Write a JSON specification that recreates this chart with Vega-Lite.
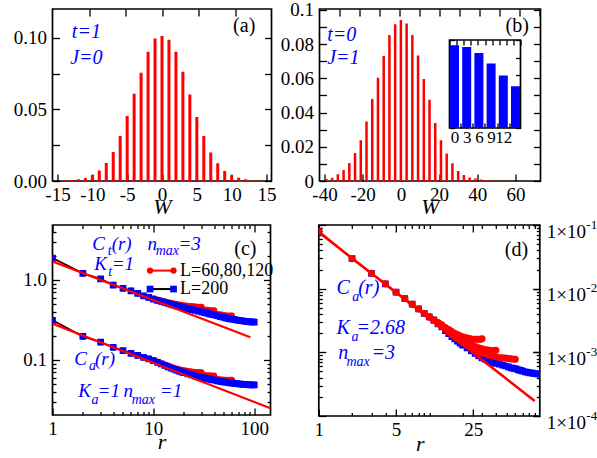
{
"$schema": "https://vega.github.io/schema/vega-lite/v6.json",
"background": "white",
"padding": {"left": 11.5, "top": 0, "right": 2, "bottom": 2},
"config": {
 "view": {"stroke": "black", "strokeWidth": 1.7},
 "axis": {"domain": false, "grid": false, "labelFont": "Liberation Serif", "labelFontSize": 19, "labelColor": "black", "labelFlush": false, "labelOverlap": false, "tickColor": "black", "tickWidth": 1.3, "tickSize": -7, "titleFont": "Liberation Serif", "titleFontSize": 22, "titleFontStyle": "italic", "titleFontWeight": "normal", "titleColor": "black", "titleBaseline": "alphabetic"},
 "axisBottom": {"labelBaseline": "alphabetic", "labelPadding": 26},
 "axisLeft": {"labelPadding": 13},
 "axisRight": {"labelPadding": 13.7},
 "axisTop": {"labels": false},
 "text": {"font": "Liberation Serif"}
},
"datasets": {
 "histA": [{"W":-14,"P":0.0004},{"W":-13,"P":0.0007},{"W":-12,"P":0.0012},{"W":-11,"P":0.0021},{"W":-10,"P":0.0042},{"W":-9,"P":0.0074},{"W":-8,"P":0.0126},{"W":-7,"P":0.0202},{"W":-6,"P":0.0314},{"W":-5,"P":0.0453},{"W":-4,"P":0.0609},{"W":-3,"P":0.0755},{"W":-2,"P":0.0902},{"W":-1,"P":0.0995},{"W":0,"P":0.1011},{"W":1,"P":0.0985},{"W":2,"P":0.0902},{"W":3,"P":0.0762},{"W":4,"P":0.0604},{"W":5,"P":0.0446},{"W":6,"P":0.0314},{"W":7,"P":0.0198},{"W":8,"P":0.0123},{"W":9,"P":0.0070},{"W":10,"P":0.0040},{"W":11,"P":0.0023},{"W":12,"P":0.0013},{"W":13,"P":0.0007},{"W":14,"P":0.0004}],
 "histB": [{"W":-39,"P":0.0012},{"W":-36,"P":0.0019},{"W":-33,"P":0.0039},{"W":-30,"P":0.0064},{"W":-27,"P":0.0105},{"W":-24,"P":0.0164},{"W":-21,"P":0.0238},{"W":-18,"P":0.0347},{"W":-15,"P":0.0479},{"W":-12,"P":0.0604},{"W":-9,"P":0.0730},{"W":-6,"P":0.0853},{"W":-3,"P":0.0916},{"W":0,"P":0.0941},{"W":3,"P":0.0920},{"W":6,"P":0.0853},{"W":9,"P":0.0733},{"W":12,"P":0.0596},{"W":15,"P":0.0475},{"W":18,"P":0.0339},{"W":21,"P":0.0238},{"W":24,"P":0.0160},{"W":27,"P":0.0103},{"W":30,"P":0.0058},{"W":33,"P":0.0035},{"W":36,"P":0.0021},{"W":39,"P":0.0014},{"W":42,"P":0.0009},{"W":45,"P":0.0006},{"W":48,"P":0.0004},{"W":51,"P":0.0003},{"W":54,"P":0.0002},{"W":57,"P":0.0001}],
 "txtA": [{"x":-12.35,"y":0.0998,"t":"t=1"},{"x":-12.58,"y":0.0816,"t":"J=0"}],
 "txtB": [{"x":-36.15,"y":0.0816,"t":"t=0"},{"x":-36.15,"y":0.0684,"t":"J=1"}],
 "redC": [
  {"s":"t60","r":1,"C":1.88},{"s":"t60","r":2,"C":1.21},{"s":"t60","r":3,"C":1.03},{"s":"t60","r":4,"C":0.865},{"s":"t60","r":5,"C":0.786},{"s":"t60","r":6,"C":0.733},{"s":"t60","r":7,"C":0.68},{"s":"t60","r":8,"C":0.634},{"s":"t60","r":9,"C":0.605},{"s":"t60","r":10,"C":0.586},{"s":"t60","r":11,"C":0.568},{"s":"t60","r":12,"C":0.551},{"s":"t60","r":13,"C":0.538},{"s":"t60","r":14,"C":0.526},{"s":"t60","r":15,"C":0.515},{"s":"t60","r":16,"C":0.505},{"s":"t60","r":17,"C":0.498},{"s":"t60","r":18,"C":0.492},{"s":"t60","r":19,"C":0.487},{"s":"t60","r":20,"C":0.482},{"s":"t60","r":21,"C":0.478},{"s":"t60","r":22,"C":0.474},{"s":"t60","r":23,"C":0.471},{"s":"t60","r":24,"C":0.468},{"s":"t60","r":25,"C":0.466},{"s":"t60","r":26,"C":0.464},{"s":"t60","r":27,"C":0.462},{"s":"t60","r":28,"C":0.461},{"s":"t60","r":29,"C":0.461},{"s":"t60","r":30,"C":0.461},
  {"s":"t80","r":9,"C":0.605},{"s":"t80","r":10,"C":0.581},{"s":"t80","r":11,"C":0.562},{"s":"t80","r":12,"C":0.545},{"s":"t80","r":13,"C":0.530},{"s":"t80","r":14,"C":0.517},{"s":"t80","r":15,"C":0.505},{"s":"t80","r":16,"C":0.494},{"s":"t80","r":17,"C":0.487},{"s":"t80","r":18,"C":0.480},{"s":"t80","r":19,"C":0.473},{"s":"t80","r":20,"C":0.467},{"s":"t80","r":22,"C":0.456},{"s":"t80","r":24,"C":0.447},{"s":"t80","r":26,"C":0.440},{"s":"t80","r":28,"C":0.433},{"s":"t80","r":30,"C":0.428},{"s":"t80","r":32,"C":0.424},{"s":"t80","r":34,"C":0.421},{"s":"t80","r":36,"C":0.418},{"s":"t80","r":38,"C":0.416},{"s":"t80","r":40,"C":0.415},
  {"s":"t120","r":9,"C":0.605},{"s":"t120","r":10,"C":0.578},{"s":"t120","r":11,"C":0.558},{"s":"t120","r":12,"C":0.540},{"s":"t120","r":13,"C":0.525},{"s":"t120","r":14,"C":0.512},{"s":"t120","r":15,"C":0.499},{"s":"t120","r":16,"C":0.488},{"s":"t120","r":17,"C":0.479},{"s":"t120","r":18,"C":0.471},{"s":"t120","r":19,"C":0.464},{"s":"t120","r":20,"C":0.457},{"s":"t120","r":22,"C":0.445},{"s":"t120","r":24,"C":0.434},{"s":"t120","r":26,"C":0.424},{"s":"t120","r":28,"C":0.415},{"s":"t120","r":30,"C":0.408},{"s":"t120","r":32,"C":0.401},{"s":"t120","r":34,"C":0.395},{"s":"t120","r":36,"C":0.390},{"s":"t120","r":38,"C":0.385},{"s":"t120","r":40,"C":0.380},{"s":"t120","r":43,"C":0.375},{"s":"t120","r":46,"C":0.370},{"s":"t120","r":49,"C":0.365},{"s":"t120","r":52,"C":0.361},{"s":"t120","r":55,"C":0.358},{"s":"t120","r":58,"C":0.357},{"s":"t120","r":60,"C":0.357},
  {"s":"a60","r":1,"C":0.313},{"s":"a60","r":2,"C":0.197},{"s":"a60","r":3,"C":0.167},{"s":"a60","r":4,"C":0.144},{"s":"a60","r":5,"C":0.131},{"s":"a60","r":6,"C":0.121},{"s":"a60","r":7,"C":0.114},{"s":"a60","r":8,"C":0.108},{"s":"a60","r":9,"C":0.103},{"s":"a60","r":10,"C":0.0995},{"s":"a60","r":11,"C":0.0952},{"s":"a60","r":12,"C":0.091},{"s":"a60","r":13,"C":0.0876},{"s":"a60","r":14,"C":0.0846},{"s":"a60","r":15,"C":0.0819},{"s":"a60","r":16,"C":0.0798},{"s":"a60","r":17,"C":0.078},{"s":"a60","r":18,"C":0.0764},{"s":"a60","r":19,"C":0.0752},{"s":"a60","r":20,"C":0.0742},{"s":"a60","r":21,"C":0.0733},{"s":"a60","r":22,"C":0.0725},{"s":"a60","r":23,"C":0.0719},{"s":"a60","r":24,"C":0.0714},{"s":"a60","r":25,"C":0.0709},{"s":"a60","r":26,"C":0.0705},{"s":"a60","r":27,"C":0.0703},{"s":"a60","r":28,"C":0.0701},{"s":"a60","r":29,"C":0.0701},{"s":"a60","r":30,"C":0.0701},
  {"s":"a80","r":9,"C":0.103},{"s":"a80","r":10,"C":0.0988},{"s":"a80","r":11,"C":0.0945},{"s":"a80","r":12,"C":0.0901},{"s":"a80","r":13,"C":0.0865},{"s":"a80","r":14,"C":0.0833},{"s":"a80","r":15,"C":0.0806},{"s":"a80","r":16,"C":0.0782},{"s":"a80","r":17,"C":0.0762},{"s":"a80","r":18,"C":0.0745},{"s":"a80","r":19,"C":0.0731},{"s":"a80","r":20,"C":0.0718},{"s":"a80","r":22,"C":0.0697},{"s":"a80","r":24,"C":0.0682},{"s":"a80","r":26,"C":0.0666},{"s":"a80","r":28,"C":0.0656},{"s":"a80","r":30,"C":0.065},{"s":"a80","r":32,"C":0.0646},{"s":"a80","r":34,"C":0.0643},{"s":"a80","r":36,"C":0.064},{"s":"a80","r":38,"C":0.0638},{"s":"a80","r":40,"C":0.0637},
  {"s":"a120","r":9,"C":0.103},{"s":"a120","r":10,"C":0.0983},{"s":"a120","r":11,"C":0.0938},{"s":"a120","r":12,"C":0.0894},{"s":"a120","r":13,"C":0.0858},{"s":"a120","r":14,"C":0.0825},{"s":"a120","r":15,"C":0.0796},{"s":"a120","r":16,"C":0.0771},{"s":"a120","r":17,"C":0.0751},{"s":"a120","r":18,"C":0.0732},{"s":"a120","r":19,"C":0.0717},{"s":"a120","r":20,"C":0.0703},{"s":"a120","r":22,"C":0.068},{"s":"a120","r":24,"C":0.066},{"s":"a120","r":26,"C":0.0642},{"s":"a120","r":28,"C":0.0628},{"s":"a120","r":30,"C":0.0617},{"s":"a120","r":32,"C":0.0609},{"s":"a120","r":34,"C":0.0601},{"s":"a120","r":36,"C":0.0594},{"s":"a120","r":38,"C":0.0588},{"s":"a120","r":40,"C":0.0582},{"s":"a120","r":43,"C":0.0577},{"s":"a120","r":46,"C":0.0572},{"s":"a120","r":49,"C":0.0568},{"s":"a120","r":52,"C":0.0565},{"s":"a120","r":55,"C":0.0564},{"s":"a120","r":58,"C":0.0564},{"s":"a120","r":60,"C":0.0565}
 ],
 "blueC": [
  {"s":"t","r":1,"C":1.88},{"s":"t","r":2,"C":1.21},{"s":"t","r":3,"C":1.03},{"s":"t","r":4,"C":0.865},{"s":"t","r":5,"C":0.786},{"s":"t","r":6,"C":0.733},{"s":"t","r":7,"C":0.68},{"s":"t","r":8,"C":0.634},{"s":"t","r":9,"C":0.605},{"s":"t","r":10,"C":0.576},{"s":"t","r":11,"C":0.556},{"s":"t","r":12,"C":0.538},{"s":"t","r":13,"C":0.523},{"s":"t","r":14,"C":0.509},{"s":"t","r":15,"C":0.496},{"s":"t","r":16,"C":0.484},{"s":"t","r":17,"C":0.475},{"s":"t","r":18,"C":0.467},{"s":"t","r":19,"C":0.459},{"s":"t","r":20,"C":0.452},{"s":"t","r":22,"C":0.439},{"s":"t","r":24,"C":0.427},{"s":"t","r":26,"C":0.417},{"s":"t","r":28,"C":0.407},{"s":"t","r":30,"C":0.399},{"s":"t","r":32,"C":0.391},{"s":"t","r":34,"C":0.384},{"s":"t","r":36,"C":0.377},{"s":"t","r":38,"C":0.371},{"s":"t","r":40,"C":0.365},{"s":"t","r":43,"C":0.357},{"s":"t","r":46,"C":0.349},{"s":"t","r":49,"C":0.342},{"s":"t","r":52,"C":0.336},{"s":"t","r":55,"C":0.331},{"s":"t","r":58,"C":0.326},{"s":"t","r":61,"C":0.323},{"s":"t","r":64,"C":0.319},{"s":"t","r":67,"C":0.316},{"s":"t","r":70,"C":0.313},{"s":"t","r":74,"C":0.310},{"s":"t","r":78,"C":0.307},{"s":"t","r":82,"C":0.304},{"s":"t","r":86,"C":0.302},{"s":"t","r":90,"C":0.300},{"s":"t","r":95,"C":0.299},{"s":"t","r":100,"C":0.298},
  {"s":"a","r":1,"C":0.313},{"s":"a","r":2,"C":0.197},{"s":"a","r":3,"C":0.167},{"s":"a","r":4,"C":0.144},{"s":"a","r":5,"C":0.131},{"s":"a","r":6,"C":0.121},{"s":"a","r":7,"C":0.114},{"s":"a","r":8,"C":0.108},{"s":"a","r":9,"C":0.103},{"s":"a","r":10,"C":0.098},{"s":"a","r":11,"C":0.0935},{"s":"a","r":12,"C":0.089},{"s":"a","r":13,"C":0.0853},{"s":"a","r":14,"C":0.082},{"s":"a","r":15,"C":0.079},{"s":"a","r":16,"C":0.0765},{"s":"a","r":17,"C":0.0745},{"s":"a","r":18,"C":0.0725},{"s":"a","r":19,"C":0.071},{"s":"a","r":20,"C":0.0695},{"s":"a","r":22,"C":0.067},{"s":"a","r":24,"C":0.065},{"s":"a","r":26,"C":0.063},{"s":"a","r":28,"C":0.0615},{"s":"a","r":30,"C":0.0603},{"s":"a","r":32,"C":0.0593},{"s":"a","r":34,"C":0.0584},{"s":"a","r":36,"C":0.0575},{"s":"a","r":38,"C":0.0566},{"s":"a","r":40,"C":0.0558},{"s":"a","r":43,"C":0.0549},{"s":"a","r":46,"C":0.0541},{"s":"a","r":49,"C":0.0533},{"s":"a","r":52,"C":0.0527},{"s":"a","r":55,"C":0.0521},{"s":"a","r":58,"C":0.0516},{"s":"a","r":61,"C":0.0512},{"s":"a","r":64,"C":0.0508},{"s":"a","r":67,"C":0.0505},{"s":"a","r":70,"C":0.0502},{"s":"a","r":74,"C":0.0499},{"s":"a","r":78,"C":0.0496},{"s":"a","r":82,"C":0.0493},{"s":"a","r":86,"C":0.0491},{"s":"a","r":90,"C":0.0489},{"s":"a","r":95,"C":0.0488},{"s":"a","r":100,"C":0.0487}
 ],
 "fitC": [{"s":"t","r":1,"C":1.70},{"s":"t","r":91.5,"C":0.192},{"s":"a","r":1,"C":0.284},{"s":"a","r":145,"C":0.0249}],
 "legRedC": [{"r":9.27,"C":1.31},{"r":15.85,"C":1.31}],
 "legBlueC": [{"r":9.27,"C":0.77},{"r":15.85,"C":0.77}],
 "legTxtC": [{"r":18.4,"C":1.31,"t":"L=60,80,120"},{"r":18.4,"C":0.77,"t":"L=200"}],
 "txtMainC": [{"x":2.481,"y":2.371,"t":"C"},{"x":3.859,"y":2.371,"t":"(r)"},{"x":8.738,"y":2.371,"t":"n"},{"x":17.77,"y":2.371,"t":"=3"},{"x":2.597,"y":1.334,"t":"K"},{"x":3.859,"y":1.334,"t":"=1"},{"x":1.643,"y":0.0866,"t":"C"},{"x":2.633,"y":0.0866,"t":"(r)"},{"x":1.801,"y":0.03418,"t":"K"},{"x":2.8,"y":0.03418,"t":"=1"},{"x":5.045,"y":0.03418,"t":"n"},{"x":11.6,"y":0.03418,"t":"=1"}],
 "txtSubC": [{"x":3.522,"y":2.054,"t":"t"},{"x":10.56,"y":2.054,"t":"max"},{"x":3.578,"y":1.122,"t":"t"},{"x":2.296,"y":0.07499,"t":"a"},{"x":2.442,"y":0.02818,"t":"a"},{"x":6.099,"y":0.02818,"t":"max"}],
 "blueD": [{"r":1,"C":0.080},{"r":2,"C":0.0296},{"r":3,"C":0.0174},{"r":4,"C":0.0119},{"r":5,"C":0.0088},{"r":6,"C":0.0070},{"r":7,"C":0.0057},{"r":8,"C":0.0048},{"r":9,"C":0.0041},{"r":10,"C":0.0036},{"r":11,"C":0.0032},{"r":12,"C":0.0028},{"r":13,"C":0.0025},{"r":14,"C":0.0022},{"r":15,"C":0.00196},{"r":16,"C":0.00177},{"r":17,"C":0.00162},{"r":18,"C":0.0015},{"r":19,"C":0.0014},{"r":20,"C":0.0013},{"r":22,"C":0.00117},{"r":24,"C":0.00105},{"r":26,"C":0.00096},{"r":28,"C":0.00088},{"r":30,"C":0.00082},{"r":32,"C":0.00078},{"r":34,"C":0.00074},{"r":36,"C":0.00071},{"r":38,"C":0.00069},{"r":40,"C":0.00067},{"r":43,"C":0.00065},{"r":46,"C":0.00063},{"r":49,"C":0.00061},{"r":52,"C":0.00059},{"r":55,"C":0.00057},{"r":58,"C":0.00056},{"r":61,"C":0.00055},{"r":64,"C":0.00053},{"r":67,"C":0.00052},{"r":70,"C":0.000505},{"r":74,"C":0.000495},{"r":78,"C":0.000485},{"r":82,"C":0.000477},{"r":86,"C":0.00047},{"r":90,"C":0.000464},{"r":95,"C":0.000459},{"r":100,"C":0.000456}],
 "redD": [
  {"s":"60","r":1,"C":0.080},{"s":"60","r":2,"C":0.0296},{"s":"60","r":3,"C":0.0174},{"s":"60","r":4,"C":0.0119},{"s":"60","r":5,"C":0.0088},{"s":"60","r":6,"C":0.0070},{"s":"60","r":7,"C":0.0057},{"s":"60","r":8,"C":0.0048},{"s":"60","r":9,"C":0.0041},{"s":"60","r":10,"C":0.0036},{"s":"60","r":11,"C":0.00325},{"s":"60","r":12,"C":0.00295},{"s":"60","r":13,"C":0.0027},{"s":"60","r":14,"C":0.00245},{"s":"60","r":15,"C":0.00228},{"s":"60","r":16,"C":0.00212},{"s":"60","r":17,"C":0.002},{"s":"60","r":18,"C":0.0019},{"s":"60","r":19,"C":0.00182},{"s":"60","r":20,"C":0.00176},{"s":"60","r":21,"C":0.00171},{"s":"60","r":22,"C":0.00167},{"s":"60","r":23,"C":0.00164},{"s":"60","r":24,"C":0.00162},{"s":"60","r":25,"C":0.00161},{"s":"60","r":26,"C":0.0016},{"s":"60","r":27,"C":0.0016},{"s":"60","r":28,"C":0.0016},{"s":"60","r":29,"C":0.00161},{"s":"60","r":30,"C":0.00163},
  {"s":"80","r":10,"C":0.0036},{"s":"80","r":11,"C":0.0032},{"s":"80","r":12,"C":0.0029},{"s":"80","r":13,"C":0.00262},{"s":"80","r":14,"C":0.00237},{"s":"80","r":15,"C":0.00216},{"s":"80","r":16,"C":0.00198},{"s":"80","r":17,"C":0.00184},{"s":"80","r":18,"C":0.00172},{"s":"80","r":19,"C":0.00162},{"s":"80","r":20,"C":0.00154},{"s":"80","r":22,"C":0.0014},{"s":"80","r":24,"C":0.0013},{"s":"80","r":26,"C":0.00123},{"s":"80","r":28,"C":0.00118},{"s":"80","r":30,"C":0.00114},{"s":"80","r":32,"C":0.00111},{"s":"80","r":34,"C":0.00109},{"s":"80","r":36,"C":0.00107},{"s":"80","r":38,"C":0.00107},{"s":"80","r":40,"C":0.00108},
  {"s":"120","r":10,"C":0.0036},{"s":"120","r":11,"C":0.0032},{"s":"120","r":12,"C":0.00284},{"s":"120","r":13,"C":0.00255},{"s":"120","r":14,"C":0.0023},{"s":"120","r":15,"C":0.00208},{"s":"120","r":16,"C":0.00189},{"s":"120","r":17,"C":0.00175},{"s":"120","r":18,"C":0.00163},{"s":"120","r":19,"C":0.00152},{"s":"120","r":20,"C":0.00143},{"s":"120","r":22,"C":0.00128},{"s":"120","r":24,"C":0.00117},{"s":"120","r":26,"C":0.00108},{"s":"120","r":28,"C":0.00102},{"s":"120","r":30,"C":0.00097},{"s":"120","r":32,"C":0.00094},{"s":"120","r":34,"C":0.00091},{"s":"120","r":36,"C":0.00089},{"s":"120","r":38,"C":0.00087},{"s":"120","r":40,"C":0.00085},{"s":"120","r":43,"C":0.00083},{"s":"120","r":46,"C":0.00082},{"s":"120","r":49,"C":0.00081},{"s":"120","r":52,"C":0.0008},{"s":"120","r":55,"C":0.00079},{"s":"120","r":58,"C":0.00078},{"s":"120","r":60,"C":0.00078}
 ],
 "fitD": [{"r":1,"C":0.077},{"r":90,"C":0.000172}],
 "txtMainD": [{"x":1.446,"y":0.00825,"t":"C"},{"x":2.273,"y":0.00825,"t":"(r)"},{"x":1.446,"y":0.001935,"t":"K"},{"x":2.193,"y":0.001935,"t":"=2.68"},{"x":1.498,"y":0.000781,"t":"n"},{"x":2.999,"y":0.000781,"t":"=3"}],
 "txtSubD": [{"x":2.006,"y":0.006471,"t":"a"},{"x":1.977,"y":0.001518,"t":"a"},{"x":1.78,"y":0.000613,"t":"max"}]
},
"vconcat": [
 {"hconcat": [
  {"width": 219, "height": 172,
   "resolve": {"scale": {"x": "independent", "y": "independent"}},
   "layer": [
    {"data": {"name": "histA"}, "mark": {"type": "bar", "orient": "vertical", "color": "#ff0000", "size": 3, "clip": true},
     "encoding": {
      "x": {"field": "W", "type": "quantitative", "scale": {"domain": [-15, 15], "nice": false, "zero": false}, "axis": {"orient": "bottom", "values": [-15,-10,-5,0,5,10,15], "labelExpr": "datum.value + ''", "title": "W", "titleY": 32.5}},
      "y": {"field": "P", "type": "quantitative", "scale": {"domain": [0, 0.12], "nice": false, "zero": false}, "axis": {"orient": "left", "values": [0,0.025,0.05,0.075,0.1], "labelExpr": "round(datum.value*40) % 2 == 1 ? '' : format(datum.value, '.2f')", "title": null}}}},
    {"data": {"name": "txtA"}, "mark": {"type": "text", "color": "#0000ff", "fontStyle": "italic", "fontSize": 20, "align": "left", "baseline": "alphabetic"},
     "encoding": {
      "x": {"field": "x", "type": "quantitative", "scale": {"domain": [-15, 15], "nice": false, "zero": false}, "axis": {"orient": "top", "values": [-10,-5,0,5,10], "title": null}},
      "y": {"field": "y", "type": "quantitative", "scale": {"domain": [0, 0.12], "nice": false, "zero": false}, "axis": {"orient": "right", "values": [0,0.025,0.05,0.075,0.1], "labels": false, "title": null}},
      "text": {"field": "t", "type": "nominal"}}},
    {"data": {"values": [{"x": 9.74, "y": 0.1037, "t": "(a)"}]}, "mark": {"type": "text", "color": "black", "fontSize": 20, "align": "left", "baseline": "alphabetic"},
     "encoding": {
      "x": {"field": "x", "type": "quantitative", "scale": {"domain": [-15, 15], "nice": false, "zero": false}, "axis": null},
      "y": {"field": "y", "type": "quantitative", "scale": {"domain": [0, 0.12], "nice": false, "zero": false}, "axis": null},
      "text": {"field": "t", "type": "nominal"}}}
   ]},
  {"hconcat": [
    {"hconcat": [
     {"width": 221, "height": 172,
      "resolve": {"scale": {"x": "independent", "y": "independent"}},
      "layer": [
       {"data": {"name": "histB"}, "mark": {"type": "bar", "orient": "vertical", "color": "#ff0000", "size": 2.5, "clip": true},
        "encoding": {
         "x": {"field": "W", "type": "quantitative", "scale": {"domain": [-40, 70.5], "nice": false, "zero": false}, "axis": {"orient": "bottom", "values": [-40,-20,0,20,40,60], "labelExpr": "datum.value + ''", "title": "W", "titleY": 32.5}},
         "y": {"field": "P", "type": "quantitative", "scale": {"domain": [0, 0.1005], "nice": false, "zero": false}, "axis": {"orient": "left", "values": [0,0.01,0.02,0.03,0.04,0.05,0.06,0.07,0.08,0.09,0.1], "labelExpr": "round(datum.value*100) % 2 == 1 ? '' : (datum.value == 0 ? '0' : (datum.value > 0.099 ? '0.1' : format(datum.value, '.2f')))", "title": null}}}},
       {"data": {"name": "txtB"}, "mark": {"type": "text", "color": "#0000ff", "fontStyle": "italic", "fontSize": 20, "align": "left", "baseline": "alphabetic"},
        "encoding": {
         "x": {"field": "x", "type": "quantitative", "scale": {"domain": [-40, 70.5], "nice": false, "zero": false}, "axis": {"orient": "top", "values": [-30,-20,-10,0,10,20,30,40,50,60,70], "title": null}},
         "y": {"field": "y", "type": "quantitative", "scale": {"domain": [0, 0.1005], "nice": false, "zero": false}, "axis": {"orient": "right", "values": [0,0.01,0.02,0.03,0.04,0.05,0.06,0.07,0.08,0.09,0.1], "labels": false, "title": null}},
         "text": {"field": "t", "type": "nominal"}}},
       {"data": {"values": [{"x": 53, "y": 0.0868, "t": "(b)"}]}, "mark": {"type": "text", "color": "black", "fontSize": 20, "align": "left", "baseline": "alphabetic"},
        "encoding": {
         "x": {"field": "x", "type": "quantitative", "scale": {"domain": [-40, 70.5], "nice": false, "zero": false}, "axis": null},
         "y": {"field": "y", "type": "quantitative", "scale": {"domain": [0, 0.1005], "nice": false, "zero": false}, "axis": null},
         "text": {"field": "t", "type": "nominal"}}}
      ]}
    ], "bounds": "flush"},
    {"vconcat": [
      {"width": 71, "height": 31, "data": {"values": []}, "mark": "point", "view": {"stroke": null}},
      {"width": 71, "height": 88,
       "resolve": {"scale": {"x": "independent", "y": "independent"}},
       "layer": [
        {"data": {"name": "histB"}, "mark": {"type": "bar", "orient": "vertical", "color": "#0000ff", "size": 9, "clip": true},
         "encoding": {
          "x": {"field": "W", "type": "quantitative", "scale": {"domain": [0, 15], "nice": false, "zero": false}, "axis": {"orient": "bottom", "values": [0,1.5,3,4.5,6,7.5,9,10.5,12,13.5,15], "labelExpr": "datum.value % 3 == 0 && datum.value < 15 ? datum.value + '' : ''", "labelFontSize": 17, "labelPadding": 19.5, "tickSize": -5, "title": null}},
          "y": {"field": "P", "type": "quantitative", "scale": {"domain": [0, 0.1], "nice": false, "zero": false}, "axis": {"orient": "left", "values": [0,0.02,0.04,0.06,0.08,0.1], "labels": false, "tickSize": -5, "title": null}}}},
        {"data": {"name": "histB"}, "mark": {"type": "point", "opacity": 0, "clip": true},
         "encoding": {
          "x": {"field": "W", "type": "quantitative", "scale": {"domain": [0, 15], "nice": false, "zero": false}, "axis": {"orient": "top", "values": [0,1.5,3,4.5,6,7.5,9,10.5,12,13.5,15], "tickSize": -5, "title": null}},
          "y": {"field": "P", "type": "quantitative", "scale": {"domain": [0, 0.1], "nice": false, "zero": false}, "axis": {"orient": "right", "values": [0,0.02,0.04,0.06,0.08,0.1], "labels": false, "tickSize": -5, "title": null}}}}
       ]}
     ], "spacing": 0, "bounds": "flush"}
   ], "spacing": 130, "bounds": "flush"}
 ], "spacing": 48, "bounds": "flush"},
 {"hconcat": [
  {"width": 218, "height": 190,
   "resolve": {"scale": {"x": "independent", "y": "independent"}},
   "layer": [
    {"data": {"name": "redC"}, "mark": {"type": "line", "color": "#ff0000", "strokeWidth": 2, "clip": true, "point": {"filled": true, "color": "#ff0000", "size": 40}},
     "encoding": {
      "x": {"field": "r", "type": "quantitative", "scale": {"type": "log", "domain": [1, 145], "nice": false}, "axis": {"orient": "bottom", "values": [1,10,100], "labelExpr": "datum.value + ''", "title": "r", "titleY": 33.5}},
      "y": {"field": "C", "type": "quantitative", "scale": {"type": "log", "domain": [0.0205, 4.87], "nice": false}, "axis": {"orient": "left", "values": [0.1, 1], "labelExpr": "format(datum.value, '.1f')", "title": null}},
      "detail": {"field": "s", "type": "nominal"}}},
    {"data": {"name": "blueC"}, "mark": {"type": "line", "color": "black", "strokeWidth": 1.2, "clip": true, "point": {"filled": true, "color": "#0000ff", "shape": "square", "size": 45}},
     "encoding": {
      "x": {"field": "r", "type": "quantitative", "scale": {"type": "log", "domain": [1, 145], "nice": false}, "axis": {"orient": "top", "values": [1,10,100], "title": null}},
      "y": {"field": "C", "type": "quantitative", "scale": {"type": "log", "domain": [0.0205, 4.87], "nice": false}, "axis": {"orient": "right", "values": [0.1, 1], "labels": false, "title": null}},
      "detail": {"field": "s", "type": "nominal"}}},
    {"data": {"name": "fitC"}, "mark": {"type": "line", "color": "#ff0000", "strokeWidth": 2.2, "clip": true},
     "encoding": {
      "x": {"field": "r", "type": "quantitative", "scale": {"type": "log", "domain": [1, 145], "nice": false}, "axis": {"orient": "bottom", "values": [2,3,4,5,6,7,8,9,20,30,40,50,60,70,80,90], "labels": false, "tickSize": -3.5, "title": null}},
      "y": {"field": "C", "type": "quantitative", "scale": {"type": "log", "domain": [0.0205, 4.87], "nice": false}, "axis": {"orient": "left", "values": [0.03,0.04,0.05,0.06,0.07,0.08,0.09,0.2,0.3,0.4,0.5,0.6,0.7,0.8,0.9,2,3,4], "labels": false, "tickSize": -3.5, "title": null}},
      "detail": {"field": "s", "type": "nominal"}}},
    {"data": {"name": "legRedC"}, "mark": {"type": "line", "color": "#ff0000", "strokeWidth": 2, "point": {"filled": true, "color": "#ff0000", "size": 40}},
     "encoding": {
      "x": {"field": "r", "type": "quantitative", "scale": {"type": "log", "domain": [1, 145], "nice": false}, "axis": {"orient": "top", "values": [2,3,4,5,6,7,8,9,20,30,40,50,60,70,80,90], "tickSize": -3.5, "title": null}},
      "y": {"field": "C", "type": "quantitative", "scale": {"type": "log", "domain": [0.0205, 4.87], "nice": false}, "axis": {"orient": "right", "values": [0.03,0.04,0.05,0.06,0.07,0.08,0.09,0.2,0.3,0.4,0.5,0.6,0.7,0.8,0.9,2,3,4], "labels": false, "tickSize": -3.5, "title": null}}}},
    {"data": {"name": "legBlueC"}, "mark": {"type": "line", "color": "black", "strokeWidth": 2, "point": {"filled": true, "color": "#0000ff", "shape": "square", "size": 45}},
     "encoding": {
      "x": {"field": "r", "type": "quantitative", "scale": {"type": "log", "domain": [1, 145], "nice": false}, "axis": null},
      "y": {"field": "C", "type": "quantitative", "scale": {"type": "log", "domain": [0.0205, 4.87], "nice": false}, "axis": null}}},
    {"data": {"name": "legTxtC"}, "mark": {"type": "text", "color": "black", "fontSize": 18, "align": "left", "baseline": "middle"},
     "encoding": {
      "x": {"field": "r", "type": "quantitative", "scale": {"type": "log", "domain": [1, 145], "nice": false}, "axis": null},
      "y": {"field": "C", "type": "quantitative", "scale": {"type": "log", "domain": [0.0205, 4.87], "nice": false}, "axis": null},
      "text": {"field": "t", "type": "nominal"}}},
    {"data": {"name": "txtMainC"}, "mark": {"type": "text", "color": "#0000ff", "fontStyle": "italic", "fontSize": 19, "align": "left", "baseline": "alphabetic"},
     "encoding": {
      "x": {"field": "x", "type": "quantitative", "scale": {"type": "log", "domain": [1, 145], "nice": false}, "axis": null},
      "y": {"field": "y", "type": "quantitative", "scale": {"type": "log", "domain": [0.0205, 4.87], "nice": false}, "axis": null},
      "text": {"field": "t", "type": "nominal"}}},
    {"data": {"name": "txtSubC"}, "mark": {"type": "text", "color": "#0000ff", "fontStyle": "italic", "fontSize": 14, "align": "left", "baseline": "alphabetic"},
     "encoding": {
      "x": {"field": "x", "type": "quantitative", "scale": {"type": "log", "domain": [1, 145], "nice": false}, "axis": null},
      "y": {"field": "y", "type": "quantitative", "scale": {"type": "log", "domain": [0.0205, 4.87], "nice": false}, "axis": null},
      "text": {"field": "t", "type": "nominal"}}},
    {"data": {"values": [{"x": 63.41, "y": 2.054, "t": "(c)"}]}, "mark": {"type": "text", "color": "black", "fontSize": 20, "align": "left", "baseline": "alphabetic"},
     "encoding": {
      "x": {"field": "x", "type": "quantitative", "scale": {"type": "log", "domain": [1, 145], "nice": false}, "axis": null},
      "y": {"field": "y", "type": "quantitative", "scale": {"type": "log", "domain": [0.0205, 4.87], "nice": false}, "axis": null},
      "text": {"field": "t", "type": "nominal"}}}
   ]},
  {"width": 221, "height": 191,
   "resolve": {"scale": {"x": "independent", "y": "independent"}},
   "layer": [
    {"data": {"name": "blueD"}, "mark": {"type": "line", "color": "black", "strokeWidth": 1.2, "clip": true, "point": {"filled": true, "color": "#0000ff", "shape": "square", "size": 45}},
     "encoding": {
      "x": {"field": "r", "type": "quantitative", "scale": {"type": "log", "domain": [1, 100], "nice": false}, "axis": {"orient": "bottom", "values": [1,5,25], "labelExpr": "datum.value + ''", "title": "r", "titleY": 34, "titleX": 101}},
      "y": {"field": "C", "type": "quantitative", "scale": {"type": "log", "domain": [0.0001, 0.1], "nice": false}, "axis": {"orient": "left", "values": [0.0001,0.001,0.01,0.1], "labels": false, "title": null}}}},
    {"data": {"name": "redD"}, "mark": {"type": "line", "color": "#ff0000", "strokeWidth": 2, "clip": true, "point": {"filled": true, "color": "#ff0000", "size": 50}},
     "encoding": {
      "x": {"field": "r", "type": "quantitative", "scale": {"type": "log", "domain": [1, 100], "nice": false}, "axis": {"orient": "top", "values": [1,5,25], "title": null}},
      "y": {"field": "C", "type": "quantitative", "scale": {"type": "log", "domain": [0.0001, 0.1], "nice": false}, "axis": {"orient": "right", "values": [0.0001,0.001,0.01,0.1], "labelExpr": "'1×10'", "labelAlign": "left", "labelBaseline": "middle", "labelOffset": 6, "labelPadding": 13.5, "title": null}},
      "detail": {"field": "s", "type": "nominal"}}},
    {"data": {"name": "fitD"}, "mark": {"type": "line", "color": "#ff0000", "strokeWidth": 2.5, "clip": true},
     "encoding": {
      "x": {"field": "r", "type": "quantitative", "scale": {"type": "log", "domain": [1, 100], "nice": false}, "axis": {"orient": "bottom", "values": [2,3,4,6,7,8,9,10,20,30,40,50,60,70,80,90], "labels": false, "tickSize": -3.5, "title": null}},
      "y": {"field": "C", "type": "quantitative", "scale": {"type": "log", "domain": [0.0001, 0.1], "nice": false}, "axis": {"orient": "left", "values": [0.0002,0.0003,0.0004,0.0005,0.0006,0.0007,0.0008,0.0009,0.002,0.003,0.004,0.005,0.006,0.007,0.008,0.009,0.02,0.03,0.04,0.05,0.06,0.07,0.08,0.09], "labels": false, "tickSize": -3.5, "title": null}}}},
    {"data": {"name": "txtMainD"}, "mark": {"type": "text", "color": "#0000ff", "fontStyle": "italic", "fontSize": 20, "align": "left", "baseline": "alphabetic"},
     "encoding": {
      "x": {"field": "x", "type": "quantitative", "scale": {"type": "log", "domain": [1, 100], "nice": false}, "axis": {"orient": "top", "values": [2,3,4,6,7,8,9,10,20,30,40,50,60,70,80,90], "tickSize": -3.5, "title": null}},
      "y": {"field": "y", "type": "quantitative", "scale": {"type": "log", "domain": [0.0001, 0.1], "nice": false}, "axis": {"orient": "right", "values": [0.0002,0.0003,0.0004,0.0005,0.0006,0.0007,0.0008,0.0009,0.002,0.003,0.004,0.005,0.006,0.007,0.008,0.009,0.02,0.03,0.04,0.05,0.06,0.07,0.08,0.09], "labels": false, "tickSize": -3.5, "title": null}},
      "text": {"field": "t", "type": "nominal"}}},
    {"data": {"name": "txtSubD"}, "mark": {"type": "text", "color": "#0000ff", "fontStyle": "italic", "fontSize": 14, "align": "left", "baseline": "alphabetic"},
     "encoding": {
      "x": {"field": "x", "type": "quantitative", "scale": {"type": "log", "domain": [1, 100], "nice": false}, "axis": null},
      "y": {"field": "y", "type": "quantitative", "scale": {"type": "log", "domain": [0.0001, 0.1], "nice": false}, "axis": {"orient": "right", "values": [0.0001,0.001,0.01,0.1], "labelExpr": "'-' + round(-log(datum.value)/LN10)", "labelAlign": "left", "labelBaseline": "middle", "labelFontSize": 13, "labelPadding": 53, "labelOffset": -1, "title": null}},
      "text": {"field": "t", "type": "nominal"}}},
    {"data": {"values": [{"x": 48.24, "y": 0.03309, "t": "(d)"}]}, "mark": {"type": "text", "color": "black", "fontSize": 20, "align": "left", "baseline": "alphabetic"},
     "encoding": {
      "x": {"field": "x", "type": "quantitative", "scale": {"type": "log", "domain": [1, 100], "nice": false}, "axis": null},
      "y": {"field": "y", "type": "quantitative", "scale": {"type": "log", "domain": [0.0001, 0.1], "nice": false}, "axis": null},
      "text": {"field": "t", "type": "nominal"}}}
   ]}
 ], "spacing": 48.3, "bounds": "flush"}
],
"spacing": 216, "bounds": "flush"
}
